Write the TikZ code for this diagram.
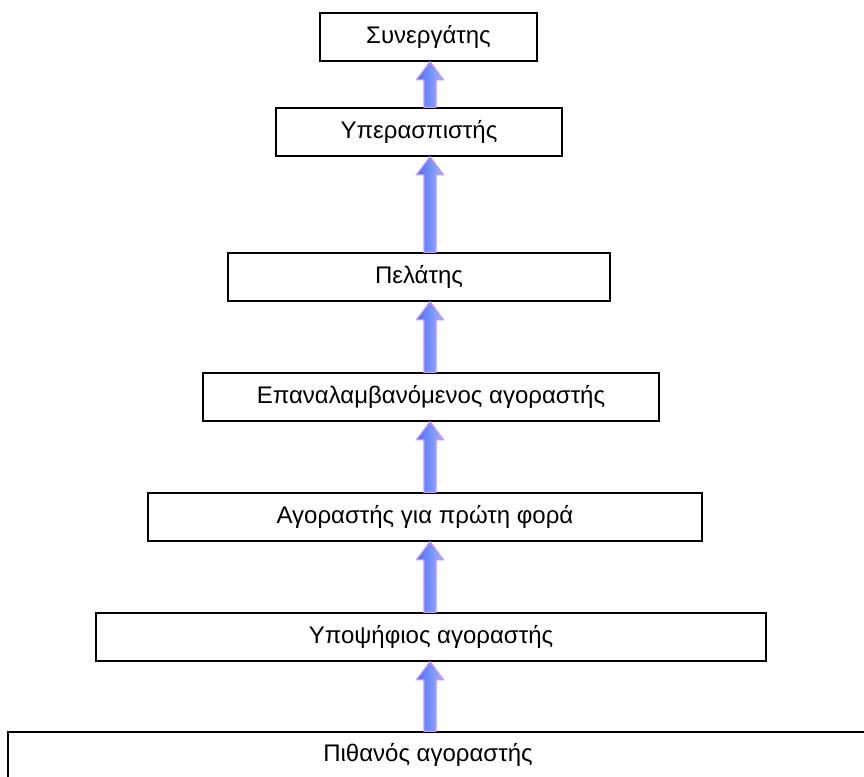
\documentclass[tikz,border=0pt]{standalone}
\usepackage{fontspec}
\setmainfont{Liberation Sans}
\usetikzlibrary{calc}

\definecolor{arrowdark}{HTML}{4A6CF8}
\definecolor{arrowlight}{HTML}{A3B6FF}
\definecolor{arrowedge}{HTML}{C494F2}

\tikzset{
  stage/.style={draw=black, line width=1.6pt, fill=white, inner sep=0pt,
                minimum height=48pt, font=\fontsize{24}{28}\selectfont},
  lbl/.style={inner sep=0pt, font=\fontsize{24}{28}\selectfont},
  arrowfill/.style={left color=arrowdark, right color=arrowlight,
                    draw=arrowedge, line width=1.2pt, line join=miter},
}

% upward block arrow from the base point #1 to the tip point #2
\newcommand{\stagearrow}[2]{%
  \path[arrowfill]
    ($(#1)+(-6,0)$) -- ($(#2)+(-6,-18)$) -- ($(#2)+(-13.5,-18)$) -- (#2)
    -- ($(#2)+(13.5,-18)$) -- ($(#2)+(6,-18)$) -- ($(#1)+(6,0)$) -- cycle;}

\begin{document}
\begin{tikzpicture}[x=1pt,y=1pt]
  \useasboundingbox (0,0) rectangle (864,-776);
  \clip (0,0) rectangle (864,-776);

  % stages of the customer ladder, top to bottom
  \node[stage, minimum width=217pt] (A) at (428.5,-37)  {Συνεργάτης};
  \node[stage, minimum width=286pt] (B) at (419,-132)   {Υπερασπιστής};
  \node[stage, minimum width=382pt] (C) at (419,-277)   {Πελάτης};
  \node[stage, minimum width=456pt] (D) at (431,-397)   {Επαναλαμβανόμενος αγοραστής};
  \node[stage, minimum width=554pt] (E) at (425,-517)   {Αγοραστής για πρώτη φορά};
  \node[stage, minimum width=670pt] (F) at (431,-637)   {Υποψήφιος αγοραστής};
  \node[stage, minimum width=892pt, minimum height=46pt] (G) at (454,-755) {};
  \node[lbl] (Gt) at (428,-755) {Πιθανός αγοραστής};

  % column of the arrows
  \coordinate (ax) at (430,0);

  \stagearrow{G.north -| ax}{F.south -| ax}
  \stagearrow{F.north -| ax}{E.south -| ax}
  \stagearrow{E.north -| ax}{D.south -| ax}
  \stagearrow{D.north -| ax}{C.south -| ax}
  \stagearrow{C.north -| ax}{B.south -| ax}
  \stagearrow{B.north -| ax}{A.south -| ax}
\end{tikzpicture}
\end{document}
